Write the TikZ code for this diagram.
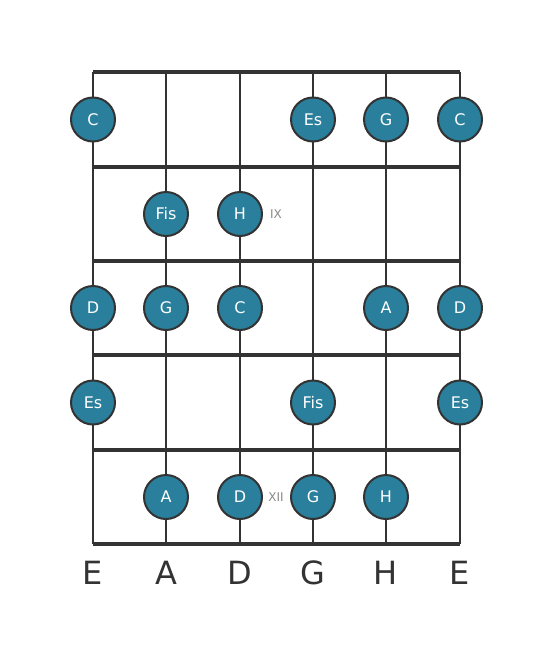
\documentclass[tikz,border=0pt]{standalone}
\usepackage{fontspec}
\setmainfont{DejaVu Sans}
\definecolor{dotfill}{HTML}{2A7F9C}
\definecolor{lineC}{HTML}{333333}
\definecolor{fretlbl}{HTML}{888888}
\begin{document}
\begin{tikzpicture}[x=1pt,y=-1pt,
  fretline/.style={line width=4.2pt,draw=lineC},
  stringline/.style={line width=2.6pt,draw=lineC},
  notedot/.style={circle,fill=dotfill,draw=lineC,line width=2pt,minimum size=44pt,inner sep=0pt,text=white,font=\fontsize{16}{16}\selectfont},
  strlabel/.style={text=lineC,font=\fontsize{32}{32}\selectfont},
  fretnum/.style={text=fretlbl,font=\fontsize{12}{12}\selectfont}]
\useasboundingbox (0,0) rectangle (553,656);
% strings
\foreach \x/\n in {93/s1,166/s2,240/s3,313/s4,386/s5,460/s6}{
  \coordinate (\n t) at (\x,72);
  \coordinate (\n b) at (\x,544);
  \draw[stringline] (\n t) -- (\n b);
}
% frets
\foreach \y/\n in {72/f0,167/f1,261/f2,355/f3,450/f4,544/f5}{
  \coordinate (\n l) at (93,\y);
  \coordinate (\n r) at (460,\y);
  \draw[fretline] (\n l) -- (\n r);
}
% notes row 1
\node[notedot] (n11) at (93,119.5) {C};
\node[notedot] (n14) at (313,119.5) {Es};
\node[notedot] (n15) at (386,119.5) {G};
\node[notedot] (n16) at (460,119.5) {C};
% row 2
\node[notedot] (n22) at (166,214) {Fis};
\node[notedot] (n23) at (240,214) {H};
\node[fretnum] (ix) at (276,214) {IX};
% row 3
\node[notedot] (n31) at (93,308) {D};
\node[notedot] (n32) at (166,308) {G};
\node[notedot] (n33) at (240,308) {C};
\node[notedot] (n35) at (386,308) {A};
\node[notedot] (n36) at (460,308) {D};
% row 4
\node[notedot] (n41) at (93,402.5) {Es};
\node[notedot] (n44) at (313,402.5) {Fis};
\node[notedot] (n46) at (460,402.5) {Es};
% row 5
\node[notedot] (n52) at (166,497) {A};
\node[notedot] (n53) at (240,497) {D};
\node[fretnum] (xii) at (276,497) {XII};
\node[notedot] (n54) at (313,497) {G};
\node[notedot] (n55) at (386,497) {H};
% string labels
\foreach \x/\t/\n in {93/E/l1,166/A/l2,240/D/l3,313/G/l4,386/H/l5,460/E/l6}{
  \node[strlabel] (\n) at (\x,573) {\t};
}
\end{tikzpicture}
\end{document}
